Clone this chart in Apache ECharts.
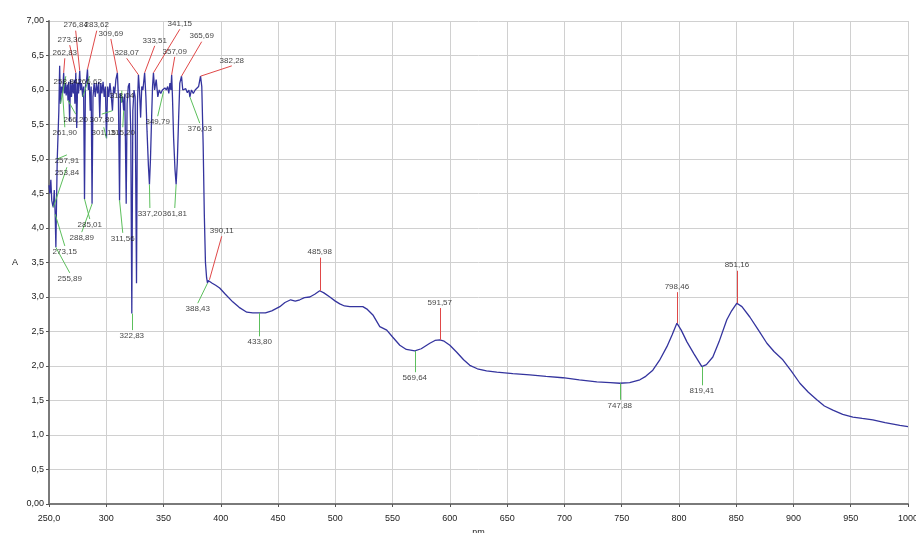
<!DOCTYPE html>
<html>
<head>
<meta charset="utf-8">
<script src="https://cdn.jsdelivr.net/npm/echarts@6/dist/echarts.min.js"></script>
<style>
html,body{margin:0;padding:0;background:#fff;}
#chart{width:916px;height:533px;}
</style>
</head>
<body>
<div id="chart"></div>
<script>
// ---------- DATA ----------
const wavelength = [
250.0,250.8,251.6,252.4,253.2,253.8,254.6,255.4,256.0,256.6,257.2,257.9,258.6,259.3,260.0,260.9,261.9,262.8,263.6,264.4,
265.0,266.0,266.6,267.2,268.0,268.8,269.6,270.4,271.2,272.0,272.6,273.4,274.2,275.0,275.8,276.8,277.6,278.4,279.4,280.2,
281.0,281.8,282.8,283.6,284.4,285.2,286.0,286.8,287.6,288.4,289.4,290.4,291.4,292.4,293.4,294.3,295.2,296.2,297.2,298.2,
299.2,300.2,301.2,302.2,303.2,304.2,305.4,306.4,307.4,308.4,309.7,310.6,311.6,312.4,313.4,314.4,315.2,316.2,317.4,318.2,
319.2,320.2,321.4,322.3,323.2,324.2,325.2,326.4,327.2,328.1,329.0,330.0,331.0,332.0,333.5,334.6,335.6,336.8,337.7,338.6,
339.6,340.4,341.2,342.2,343.6,345.0,346.2,347.6,349.0,350.0,351.2,352.4,353.6,354.6,355.6,356.4,357.1,357.8,358.8,360.0,
361.0,362.0,363.2,364.2,365.7,366.8,368.0,369.4,370.8,372.2,373.0,374.4,376.0,377.6,379.2,380.6,382.3,383.4,384.6,385.6,
386.6,387.6,388.4,389.0,389.6,390.1,392.5,395.5,399,404,410.4,416,422.7,428,434,439,444.5,451.5,456,461,
465,469,473,477.7,482,486.4,490,495.2,500,503.9,508,512.7,518,524,528,532.8,538.8,544.9,550,556.3,
562,569.4,575,582.5,587,591.2,595,600,606,612,617.4,624,632,641,655,669.8,684,698.6,713,728.3,
740,748.4,757,765.9,771,777.2,783,789.5,794,798.2,802,807,813,820,824,829.6,835,841.8,846,850.6,
855,861.9,869,876.8,883,890.7,898,905.6,913,920.4,927,934.4,943,951.9,960,969.3,980,992.9,1000
];
const absorbance = [
4.62,4.50,4.70,4.40,4.33,4.30,4.55,4.20,3.72,4.40,5.00,4.98,5.70,6.35,5.80,6.05,5.95,6.25,5.95,6.10,
5.92,6.08,5.85,6.12,5.55,6.15,5.90,6.10,5.95,6.15,5.80,6.25,5.45,6.10,5.95,6.28,6.00,6.10,5.90,6.05,
4.42,6.05,6.15,6.30,6.00,6.10,5.70,6.05,4.35,5.90,6.10,5.90,6.10,5.95,6.12,5.60,6.10,5.95,6.12,5.90,
6.05,5.30,6.05,5.90,6.10,5.95,5.70,6.05,5.95,6.15,6.25,5.90,4.40,5.95,5.82,5.90,5.70,5.95,4.35,5.80,
6.05,6.10,5.40,2.76,5.70,6.00,5.90,3.20,5.80,6.22,6.00,5.60,6.05,6.00,6.25,5.90,5.40,4.90,4.63,5.00,
5.60,6.05,6.25,6.00,6.15,5.90,6.00,5.95,6.00,5.98,6.03,6.00,6.05,5.95,6.10,6.00,6.22,5.90,5.30,4.85,
4.63,4.95,5.60,6.10,6.20,6.00,5.98,6.02,5.96,6.00,5.90,6.00,5.95,6.00,5.98,6.05,6.20,6.05,5.20,4.20,
3.50,3.28,3.20,3.24,3.22,3.25,3.20,3.17,3.13,3.04,2.93,2.85,2.78,2.77,2.77,2.77,2.80,2.86,2.92,2.96,
2.94,2.96,2.99,3.00,3.04,3.09,3.06,3.00,2.94,2.90,2.87,2.86,2.86,2.86,2.82,2.74,2.57,2.52,2.42,2.30,
2.24,2.22,2.25,2.33,2.37,2.38,2.36,2.30,2.20,2.09,2.01,1.96,1.93,1.91,1.89,1.87,1.85,1.83,1.80,1.77,
1.76,1.75,1.76,1.80,1.85,1.94,2.08,2.28,2.45,2.62,2.52,2.35,2.18,1.99,2.02,2.13,2.35,2.67,2.80,2.91,
2.86,2.71,2.53,2.33,2.21,2.09,1.93,1.75,1.62,1.51,1.42,1.36,1.30,1.26,1.24,1.22,1.18,1.14,1.12
];

const xTickLabels = ['250,0','300','350','400','450','500','550','600','650','700','750','800','850','900','950','1000'];
const yTickLabels = ['0,00','0,5','1,0','1,5','2,0','2,5','3,0','3,5','4,0','4,5','5,0','5,5','6,0','6,5','7,00'];

// peak / valley picks (wavelength of the pick and its printed text)
const peakNm   = [262.8,273.4,276.8,283.6,309.7,328.1,333.5,341.2,357.1,365.7,382.3,390.1,486.4,591.2,798.2,850.6];
const peakText = ['262,83','273,36','276,84','283,62','309,69','328,07','333,51','341,15','357,09','365,69','382,28','390,11','485,98','591,57','798,46','851,16'];
const valleyNm   = [253.8,257.2,255.4,256.0,281.0,287.6,311.6,337.7,361.0,322.3,388.4,434,569.4,748.4,820,
                    266.6,305.4,261.9,300.2,315.2,350.0,373.0,260.0,279.4,313.4];
const valleyText = ['253,84','257,91','273,15','255,89','285,01','288,89','311,56','337,20','361,81','322,83','388,43','433,80','569,64','747,88','819,41',
                    '266,20','307,80','261,90','301,15','315,20','349,79','376,03','258,84','266,62','318,04'];

// ---------- LAYOUT (label leader offsets, in axis units) ----------
const peakOffset = [[1.0,0.21],[-5.3,0.40],[-3.5,0.58],[8.1,0.56],[-5.7,0.49],[-10.3,0.24],[8.8,0.39],[23,0.63],
                    [2.7,0.26],[17.6,0.50],[27.3,0.15],[10.7,0.63],[0,0.48],[0,0.46],[0,0.45],[0,0.47]];
const valleyOffset = [[11.8,0.58],[8.4,0.06],[8.4,-0.46],[12.1,-0.37],[4.6,-0.29],[-9,-0.41],[2.8,-0.47],[0.4,-0.34],
                      [-1.2,-0.34],[0,-0.24],[-8.5,-0.29],[0,-0.34],[0,-0.31],[0,-0.24],[0,-0.27],
                      [6.7,-0.20],[-9.4,-0.05],[1.9,-0.49],[-2.4,0.16],[-0.8,-0.24],[-5.1,-0.36],[8.6,-0.38],
                      [4.7,0.40],[6.1,0.30],[0.2,0.17]];

// ---------- BUILD ----------
function valueAt(nm){
  let best = 0, bd = Infinity;
  for (let i=0;i<wavelength.length;i++){
    const d = Math.abs(wavelength[i]-nm);
    if (d<bd){bd=d;best=i;}
  }
  return absorbance[best];
}
const spectrum = wavelength.map((x,i)=>[x,absorbance[i]]);

function buildMarks(nms, texts, offs, pos){
  const lines = [], labels = [];
  nms.forEach((nm,i)=>{
    const a = valueAt(nm);
    const end = [nm+offs[i][0], a+offs[i][1]];
    lines.push([{coord:[nm,a]},{coord:end}]);
    labels.push({name:texts[i], value:end, label:{position:pos}});
  });
  return {lines, labels};
}
const pk = buildMarks(peakNm, peakText, peakOffset, 'top');
const vl = buildMarks(valleyNm, valleyText, valleyOffset, 'bottom');

const FONT = 'Liberation Sans, Arial, sans-serif';
const labelFont = {fontFamily:FONT, fontSize:8, color:'#111'};

const chart = echarts.init(document.getElementById('chart'), null, {renderer:'canvas'});
chart.setOption({
  backgroundColor:'#ffffff',
  animation:false,
  grid:{left:49, right:8, top:21, bottom:29, containLabel:false, outerBoundsMode:'none'},
  xAxis:{
    type:'value', min:250, max:1000, interval:50,
    name:'nm', nameLocation:'middle', nameGap:24,
    nameTextStyle:{fontFamily:FONT, fontSize:9, color:'#222'},
    axisLine:{show:true, onZero:false, lineStyle:{color:'#7a7a7a', width:2}},
    axisTick:{show:true, length:3, lineStyle:{color:'#555'}},
    axisLabel:{margin:10, fontFamily:FONT, fontSize:9, color:'#222',
      formatter:(v)=>xTickLabels[Math.round((v-250)/50)]},
    splitLine:{show:true, lineStyle:{color:'#d0d0d0', width:1}}
  },
  yAxis:{
    type:'value', min:0, max:7, interval:0.5,
    name:'A', nameLocation:'middle', nameRotate:0, nameGap:31,
    nameTextStyle:{fontFamily:FONT, fontSize:9, color:'#222'},
    axisLine:{show:true, onZero:false, lineStyle:{color:'#7a7a7a', width:2}},
    axisTick:{show:true, length:3, lineStyle:{color:'#555'}},
    axisLabel:{margin:5, fontFamily:FONT, fontSize:9, color:'#222',
      formatter:(v)=>yTickLabels[Math.round(v/0.5)]},
    splitLine:{show:true, lineStyle:{color:'#d0d0d0', width:1}}
  },
  series:[
    {
      type:'line', data:spectrum, symbol:'none', z:3,
      lineStyle:{color:'#34349e', width:1.3},
      markLine:{silent:true, symbol:['none','none'], animation:false, z:4,
        label:{show:false}, lineStyle:{color:'#e04848', width:1, type:'solid'},
        data:pk.lines}
    },
    {
      type:'line', data:[], symbol:'none', z:2,
      markLine:{silent:true, symbol:['none','none'], animation:false, z:4,
        label:{show:false}, lineStyle:{color:'#5cbf5c', width:1, type:'solid'},
        data:vl.lines}
    },
    {
      type:'scatter', data:pk.labels.concat(vl.labels), symbolSize:1, z:5, silent:true,
      itemStyle:{color:'rgba(0,0,0,0)'},
      label:Object.assign({show:true, formatter:'{b}', distance:1}, labelFont)
    }
  ]
});
</script>
</body>
</html>
